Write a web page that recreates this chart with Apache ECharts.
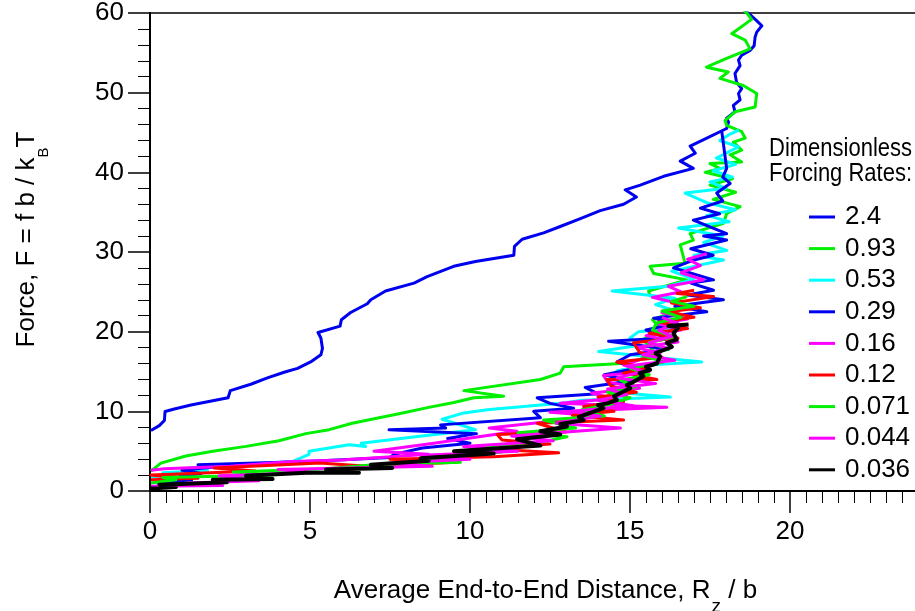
<!DOCTYPE html>
<html>
<head>
<meta charset="utf-8">
<script src="https://cdn.jsdelivr.net/npm/echarts@6/dist/echarts.min.js"></script>
<style>
  html, body { margin: 0; padding: 0; background: #fff; }
  #chart { width: 915px; height: 611px; }
</style>
</head>
<body>
<div id="chart"></div>
<script>
// Force vs. average end-to-end distance, one trace per dimensionless forcing rate.
// Each point is [R_z / b, F].
const rateNames = ['2.4', '0.93', '0.53', '0.29', '0.16', '0.12', '0.071', '0.044', '0.036'];
const rateColors = ['#0000F0', '#00F000', '#00FFFF', '#0000F0', '#FF00FF', '#FF0000', '#00F000', '#FF00FF', '#000000'];

const xTicks = [0, 5, 10, 15, 20];
const yTicks = [0, 10, 20, 30, 40, 50, 60];

const rate2_4 = [[0.03,7.6],[0.29,8.2],[0.45,8.85],[0.47,9.98],[0.76,10.3],[1.28,10.8],[1.80,11.2],[2.44,11.7],[2.51,12.6],[3.15,13.4],[3.67,14.2],[4.19,14.9],[4.61,15.4],[5.02,16.2],[5.34,17.1],[5.39,17.9],[5.34,19.2],[5.25,19.9],[5.94,20.7],[5.98,21.5],[6.27,22.4],[6.79,23.5],[6.90,24.0],[7.36,25.1],[8.25,26.1],[8.66,26.9],[9.49,28.2],[10.17,28.8],[11.37,29.6],[11.39,30.7],[11.63,31.6],[12.30,32.4],[12.82,33.2],[13.45,34.2],[14.07,35.2],[14.80,36.0],[15.20,36.9],[14.85,37.8],[15.32,38.4],[16.05,39.5],[16.98,40.5],[16.57,41.4],[17.04,42.4],[16.88,43.3],[17.40,44.3],[18.02,45.5],[18.08,46.3],[18.02,46.8],[18.28,47.6],[18.23,48.4],[18.44,49.1],[18.39,49.9],[18.49,50.5],[18.33,51.3],[18.28,52.4],[18.44,53.4],[18.39,54.1],[18.49,54.7],[18.75,55.3],[18.88,55.9],[18.91,57.0],[18.96,57.6],[19.12,58.4],[18.94,59.1],[18.75,59.8],[18.6,60.3]];

const rate0_93 = [[0.03,2.5],[0.34,3.5],[1.12,4.4],[1.96,5.0],[3.0,5.6],[4.03,6.3],[4.87,7.2],[5.6,7.7],[6.32,8.5],[7.16,9.2],[7.78,9.7],[8.71,10.5],[9.5,11.1],[10.12,11.7],[11.05,11.9],[9.81,12.6],[12.2,14.0],[12.82,14.8],[12.93,15.6],[14.7,16.0],[15.32,16.5],[15.7,17.8],[15.4,19.0],[16.0,20.2],[15.7,21.5],[16.4,22.5],[16.57,23.8],[15.63,24.5],[15.58,25.1],[16.78,26.5],[15.74,27.3],[15.63,28.2],[16.72,28.6],[16.57,30.9],[16.98,31.5],[16.88,32.3],[17.92,33.6],[18.02,34.8],[18.44,35.7],[17.6,36.6],[18.3,37.5],[17.5,38.4],[18.2,39.2],[17.35,40.0],[17.81,40.5],[17.50,41.1],[18.49,41.3],[18.13,42.2],[18.49,42.8],[18.23,43.8],[18.60,44.3],[18.49,45.1],[18.02,45.9],[17.97,46.5],[18.28,47.6],[18.91,48.2],[18.96,49.9],[18.54,50.9],[17.81,51.8],[18.07,52.6],[17.39,53.2],[18.02,54.3],[18.75,55.5],[18.60,56.6],[18.18,57.4],[18.80,59.2],[18.65,60.0],[18.5,60.5]];

const rate0_53 = [[0.03,1.8],[0.8,2.0],[0.4,2.3],[1.8,2.6],[1.2,2.9],[3.0,3.3],[4.45,3.7],[4.97,4.6],[4.97,5.0],[6.22,5.8],[6.74,5.6],[6.6,6.0],[8.3,6.8],[10.17,7.7],[9.13,9.0],[9.81,9.8],[10.54,10.2],[12.2,10.8],[12.82,11.0],[13.5,11.4],[16.26,11.8],[14.3,12.5],[15.0,13.4],[14.4,14.2],[14.6,15.1],[15.5,15.8],[17.24,16.2],[14.02,17.5],[15.3,18.3],[15.0,19.2],[15.27,20.0],[16.6,20.6],[15.9,21.6],[16.5,22.5],[15.8,23.4],[16.4,24.2],[14.44,25.1],[16.2,25.7],[17.0,26.6],[16.3,27.6],[17.92,29.0],[17.0,29.6],[18.02,30.2],[17.3,31.2],[17.9,32.0],[16.52,33.0],[18.1,33.8],[17.4,34.6],[18.3,35.3],[17.4,36.2],[16.72,37.4],[18.0,38.0],[17.5,38.8],[18.2,39.4],[17.6,40.2],[18.3,41.0],[17.7,41.8],[18.39,43.2],[17.81,44.0],[18.13,44.8],[18.4,45.3]];

const rate0_29 = [[0.2,1.0],[1.3,1.4],[0.9,1.8],[1.6,2.2],[1.0,2.6],[2.0,3.0],[1.5,3.3],[4.87,3.7],[7.5,4.2],[7.62,4.6],[8.51,5.4],[10.0,6.0],[9.3,6.6],[10.2,7.2],[7.47,7.7],[9.24,7.9],[9.08,8.3],[12.2,9.2],[11.99,10.0],[13.24,10.4],[12.5,11.0],[12.1,11.7],[14.0,12.2],[13.6,13.0],[15.0,13.8],[14.2,14.6],[15.2,15.4],[14.6,16.2],[15.01,17.1],[16.2,17.8],[14.33,18.8],[16.15,19.2],[15.5,20.2],[16.4,21.0],[15.74,21.7],[17.4,22.5],[16.4,23.2],[17.92,24.0],[16.8,24.6],[17.61,25.2],[16.9,26.1],[17.61,26.5],[16.36,28.0],[17.0,29.0],[17.6,29.6],[16.9,30.4],[18.02,31.5],[17.3,32.0],[18.02,32.3],[16.98,34.0],[17.8,34.8],[17.2,35.5],[17.9,36.4],[17.71,37.4],[18.13,38.6],[17.9,39.4],[18.02,40.5],[17.87,45.1]];

const rate0_16 = [[0.03,2.6],[0.45,2.8],[2.5,3.1],[4.45,3.7],[6.0,3.9],[8.71,4.6],[7.0,5.0],[8.87,6.0],[11.47,7.5],[10.6,7.9],[14.07,9.4],[12.5,9.9],[16.15,10.5],[12.82,11.0],[14.5,11.6],[13.8,12.3],[15.3,12.9],[14.3,13.7],[14.17,14.5],[15.6,15.0],[14.8,15.8],[15.94,17.3],[15.2,18.0],[16.5,18.7],[15.5,19.5],[16.6,20.2],[15.9,21.0],[16.8,21.6],[16.0,22.4],[16.9,23.2],[15.7,24.3],[16.6,25.0],[16.2,25.7],[17.3,26.5],[16.6,27.4],[17.2,28.3],[16.8,29.1],[17.4,29.8]];

const rate0_12 = [[0.03,1.4],[1.5,1.6],[0.5,1.8],[0.03,2.0],[3.3,2.5],[2.0,2.9],[5.3,3.5],[6.8,3.1],[9.55,3.6],[7.5,4.0],[10.74,4.3],[12.77,4.8],[10.5,5.3],[12.5,5.9],[11.0,6.4],[10.85,7.1],[13.0,7.4],[12.1,8.5],[14.8,8.9],[13.2,9.5],[14.5,10.0],[13.55,10.6],[14.8,11.2],[14.0,11.8],[15.2,12.4],[14.4,13.2],[14.28,14.0],[15.84,14.0],[14.8,14.8],[15.6,15.4],[14.59,16.2],[16.0,16.8],[15.3,17.4],[15.11,18.6],[16.5,19.2],[15.6,19.8],[16.8,20.4],[15.9,21.2],[17.0,21.8],[16.2,22.5],[17.2,23.0],[16.3,23.6],[17.61,24.4],[16.47,24.8],[17.0,25.2]];

const rate0_071 = [[0.03,1.0],[0.81,1.4],[0.4,1.7],[3.83,2.0],[2.6,2.4],[5.5,2.8],[7.0,3.3],[9.7,3.6],[8.5,4.2],[11.0,4.9],[10.0,5.5],[12.3,6.2],[13.03,6.8],[11.5,7.3],[13.3,7.9],[12.3,8.9],[14.2,9.4],[13.5,10.2],[14.4,10.9],[15.0,11.7],[14.3,12.4],[15.2,13.1],[14.7,13.9],[15.6,14.6],[15.0,15.4],[16.05,16.2],[15.4,17.0],[16.2,17.8],[15.6,18.6],[16.4,19.4],[15.7,20.2],[15.84,21.1],[16.6,21.8],[16.0,22.6],[17.0,23.2],[16.3,23.8],[16.78,24.4]];

const rate0_044 = [[0.03,0.6],[2.27,0.7],[1.2,1.0],[3.4,1.3],[2.16,1.9],[5.08,2.3],[4.0,2.7],[8.82,3.1],[7.5,3.5],[10.0,4.0],[8.5,4.5],[11.5,5.0],[9.8,5.6],[12.6,6.3],[11.3,6.9],[14.7,7.9],[12.7,8.5],[14.07,9.4],[13.2,10.0],[15.1,10.7],[14.0,11.4],[14.9,12.1],[14.3,12.8],[15.8,13.5],[14.6,14.2],[15.4,15.0],[14.9,15.7],[16.4,16.4],[15.4,17.1],[16.2,17.9],[15.6,18.6],[16.3,19.4],[15.9,20.2],[16.5,21.0],[16.0,21.8]];

const rate0_036 = [[0.0,0.3],[0.81,0.5],[0.3,0.8],[2.4,1.1],[1.96,1.4],[3.83,1.5],[3.0,1.9],[4.87,2.3],[6.53,2.3],[5.5,2.7],[7.57,2.9],[6.9,3.3],[8.71,3.8],[8.46,4.1],[10.74,4.7],[9.5,5.0],[12.2,5.7],[11.47,6.5],[12.82,7.1],[12.2,7.5],[13.03,8.1],[12.82,8.4],[13.55,8.9],[13.4,9.3],[13.76,9.8],[14.17,10.4],[14.0,10.8],[14.28,11.0],[14.59,11.4],[14.5,11.9],[14.70,12.3],[15.01,12.9],[14.9,13.3],[15.11,13.7],[15.42,14.4],[15.3,14.8],[15.63,15.2],[15.5,15.6],[15.84,16.0],[15.94,16.9],[15.8,17.3],[16.05,17.7],[16.31,18.1],[16.15,18.6],[16.46,19.0],[16.36,19.8],[16.52,20.6],[16.2,20.7],[16.83,20.9]];

const rateData = [rate2_4, rate0_93, rate0_53, rate0_29, rate0_16, rate0_12, rate0_071, rate0_044, rate0_036];

const FONT = 'Liberation Sans, Arial, sans-serif';

const chart = echarts.init(document.getElementById('chart'), null, { renderer: 'canvas' });

const series = rateNames.map((name, i) => ({
  name: name,
  type: 'line',
  data: rateData[i],
  showSymbol: false,
  symbol: 'none',
  clip: true,
  lineStyle: { color: rateColors[i], width: i === 8 ? 4 : 3, join: 'round' },
  itemStyle: { color: rateColors[i] },
  emphasis: { disabled: true },
  z: 2 + i
}));

chart.setOption({
  animation: false,
  backgroundColor: '#ffffff',
  grid: {
    left: 150, top: 13, width: 800, height: 478,
    outerBoundsMode: 'none',
    containLabel: false,
    show: true, borderColor: '#000', borderWidth: 1.5, backgroundColor: 'transparent'
  },
  xAxis: {
    type: 'value',
    min: 0, max: 25, interval: 5,
    axisLine: { show: true, onZero: false, lineStyle: { color: '#000', width: 2 } },
    axisTick: { show: true, inside: false, length: 22, lineStyle: { color: '#000', width: 1.5 } },
    minorTick: { show: true, splitNumber: 10, length: 12, lineStyle: { color: '#000', width: 1 } },
    splitLine: { show: false },
    axisLabel: {
      margin: 28, color: '#000', fontSize: 26, fontFamily: FONT,
      formatter: v => (xTicks.indexOf(v) >= 0 ? String(v) : '')
    }
  },
  yAxis: {
    type: 'value',
    min: 0, max: 60, interval: 10,
    axisLine: { show: true, onZero: false, lineStyle: { color: '#000', width: 2 } },
    axisTick: { show: true, inside: false, length: 22, lineStyle: { color: '#000', width: 1.5 } },
    minorTick: { show: true, splitNumber: 5, length: 12, lineStyle: { color: '#000', width: 1 } },
    splitLine: { show: false },
    axisLabel: {
      margin: 26, color: '#000', fontSize: 26, fontFamily: FONT,
      formatter: v => (yTicks.indexOf(v) >= 0 ? String(v) : '')
    }
  },
  legend: {
    orient: 'vertical',
    left: 809, top: 204,
    padding: 0,
    itemWidth: 26, itemHeight: 3,
    itemGap: 5.6,
    icon: 'rect',
    selectedMode: false,
    data: rateNames,
    textStyle: { color: '#000', fontSize: 26, lineHeight: 26, fontFamily: FONT, padding: [0, 0, 0, 5] }
  },
  graphic: [
    {
      type: 'text',
      x: 28.5, y: 239.5,
      rotation: Math.PI / 2,
      silent: true,
      style: {
        text: '{m|Force, F = f b / k}{s|B}{m|T}',
        align: 'center', verticalAlign: 'middle',
        fill: '#000',
        rich: {
          m: { fontSize: 26, lineHeight: 30, fontFamily: FONT, verticalAlign: 'top', fill: '#000' },
          s: { fontSize: 15, lineHeight: 15, fontFamily: FONT, verticalAlign: 'top', padding: [23, 0, 0, 0], fill: '#000' }
        }
      }
    },
    {
      type: 'text',
      x: 545.5, y: 592.8,
      silent: true,
      style: {
        text: '{m|Average End-to-End Distance, R}{s|z}{m| / b}',
        align: 'center', verticalAlign: 'middle',
        fill: '#000',
        rich: {
          m: { fontSize: 26, lineHeight: 30, fontFamily: FONT, verticalAlign: 'top', fill: '#000' },
          s: { fontSize: 19, lineHeight: 19, fontFamily: FONT, verticalAlign: 'top', padding: [19, 0, 0, 1], fill: '#000' }
        }
      }
    },
    {
      type: 'text',
      x: 769, y: 161.7,
      scaleY: 1.15,
      silent: true,
      style: {
        text: 'Dimensionless\nForcing Rates:',
        align: 'left', verticalAlign: 'middle',
        fill: '#000',
        fontSize: 22, lineHeight: 21.7, fontFamily: FONT
      }
    }
  ],
  series: series
});
</script>
</body>
</html>
